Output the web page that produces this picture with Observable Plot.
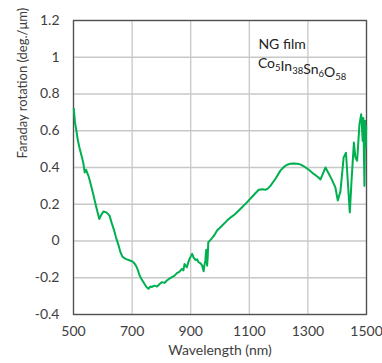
<!DOCTYPE html>
<html>
<head>
<meta charset="utf-8">
<script src="https://cdn.jsdelivr.net/npm/d3@7"></script>
<script src="https://cdn.jsdelivr.net/npm/@observablehq/plot@0.6"></script>
</head>
<body style="margin:0">
<div id="chart"></div>
<script>
const wavelength = [501,505,510,514,520,529,534,538,543,547,551,557,563,568,574,580,588,594,602,608,614,623,630,637,645,654,660,667,675,682,690,700,706,713,719,725,733,742,749,756,762,768,776,785,793,802,810,819,827,836,844,853,861,870,875,879,883,887,892,896,900,905,910,916,922,927,933,939,944,947,950,953,956,958,960,970,980,990,1005,1024,1038,1052,1072,1092,1112,1132,1145,1155,1163,1172,1190,1206,1218,1229,1240,1252,1264,1274,1288,1303,1320,1333,1343,1352,1360,1370,1383,1394,1402,1411,1422,1430,1436,1443,1449,1457,1462,1468,1476,1482,1487,1489,1493,1495,1497,1499];
const rotation = [0.72,0.645,0.6,0.555,0.51,0.455,0.42,0.373,0.388,0.37,0.355,0.32,0.283,0.25,0.21,0.17,0.12,0.14,0.16,0.158,0.153,0.138,0.1,0.066,0.02,-0.025,-0.06,-0.085,-0.095,-0.10,-0.105,-0.11,-0.118,-0.134,-0.155,-0.185,-0.21,-0.233,-0.25,-0.26,-0.248,-0.25,-0.243,-0.248,-0.235,-0.224,-0.228,-0.215,-0.205,-0.197,-0.19,-0.175,-0.168,-0.152,-0.16,-0.125,-0.135,-0.143,-0.115,-0.097,-0.085,-0.07,-0.09,-0.103,-0.1,-0.116,-0.12,-0.134,-0.165,-0.13,-0.107,-0.048,-0.134,-0.09,-0.007,0.01,0.03,0.057,0.08,0.111,0.13,0.147,0.178,0.21,0.245,0.279,0.281,0.279,0.285,0.30,0.34,0.383,0.403,0.415,0.42,0.422,0.42,0.417,0.405,0.388,0.365,0.35,0.335,0.37,0.40,0.37,0.33,0.29,0.22,0.27,0.455,0.48,0.33,0.156,0.33,0.536,0.455,0.437,0.636,0.69,0.545,0.67,0.30,0.654,0.51,0.62];

const xTicks = [500,700,900,1100,1300,1500];
const yTicks = [-0.4,-0.2,0,0.2,0.4,0.6,0.8,1,1.2];
const yTitle = ["Faraday rotation (deg./\u03bcm)"];
const xTitle = ["Wavelength (nm)"];
const noteTitle = ["NG film"];
const formula = [["Co","5"],["In","38"],["Sn","6"],["O","58"]];

const data = wavelength.map((w, i) => ({w, r: rotation[i]}));
const FONT = "Lato, 'Open Sans', sans-serif";

const chart = Plot.plot({
  width: 382,
  height: 363,
  marginLeft: 73,
  marginRight: 16,
  marginTop: 20,
  marginBottom: 49,
  x: {domain: [500, 1500], label: null},
  y: {domain: [-0.4, 1.2], label: null},
  marks: [
    Plot.ruleX(xTicks, {stroke: "#c8c8c8", strokeWidth: 1.3}),
    Plot.ruleY(yTicks, {stroke: "#c8c8c8", strokeWidth: 1.3}),
    Plot.frame({stroke: "#505050", strokeWidth: 1.3}),
    Plot.axisX(xTicks, {tickSize: 0, tickPadding: 12, fontSize: 14, fontFamily: FONT, fill: "#404040", tickFormat: d => String(d), label: null}),
    Plot.axisY(yTicks, {tickSize: 0, tickPadding: 14, fontSize: 14, fontFamily: FONT, fill: "#404040", tickFormat: d => String(+d.toFixed(1)), label: null}),
    Plot.line(data, {x: "w", y: "r", stroke: "#00b050", strokeWidth: 2, strokeLinejoin: "round"}),
    Plot.text(yTitle, {text: d => d, frameAnchor: "left", dx: -51, dy: -9, rotate: -90, fontSize: 13, fontFamily: FONT, fill: "#404040"}),
    Plot.text(xTitle, {text: d => d, frameAnchor: "bottom", dy: 40, fontSize: 14, fontFamily: FONT, fill: "#404040"}),
    Plot.text(noteTitle, {x: 1131, y: 1.07, text: d => d, textAnchor: "start", fontSize: 14, fontFamily: FONT, fill: "#222"})
  ]
});

document.getElementById("chart").appendChild(chart);

// subscripted formula annotation
const sx = chart.scale("x"), sy = chart.scale("y");
const t = d3.select(chart).append("text")
  .attr("x", sx.apply(1131))
  .attr("y", sy.apply(0.962))
  .attr("dy", "0.32em")
  .attr("font-size", 14)
  .attr("font-family", FONT)
  .attr("text-anchor", "start")
  .attr("fill", "#222");
formula.forEach(([el, n]) => {
  t.append("tspan").text(el);
  t.append("tspan").attr("font-size", 9.5).attr("dy", "3").text(n);
  t.append("tspan").attr("font-size", 14).attr("dy", "-3").text("");
});
</script>
</body>
</html>
